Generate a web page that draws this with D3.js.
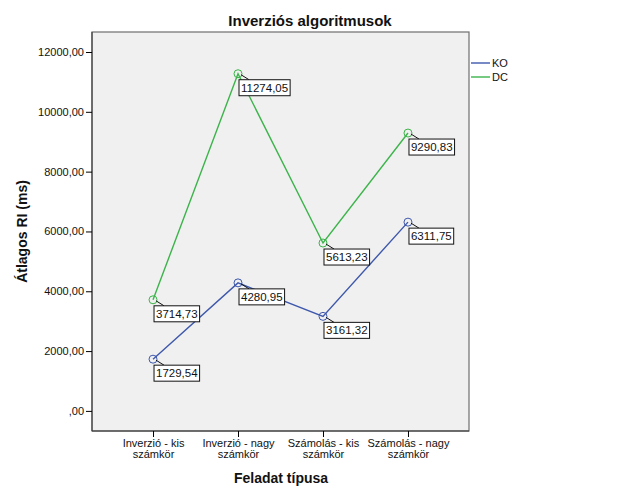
<!DOCTYPE html>
<html>
<head>
<meta charset="utf-8">
<script src="https://cdn.jsdelivr.net/npm/d3@7"></script>
<style>
body { margin: 0; background: #fff; }
text { font-family: Arial, "Liberation Sans", sans-serif; }
</style>
</head>
<body>
<div id="chart"></div>
<script>
var svgWidth = 626;
var svgHeight = 501;

// plot frame
var plot = { left: 92, top: 32, right: 469, bottom: 431 };

// data
var categories = ["Inverzió - kis számkör", "Inverzió - nagy számkör", "Számolás - kis számkör", "Számolás - nagy számkör"];
var catLines = [["Inverzió - kis", "számkör"], ["Inverzió - nagy", "számkör"], ["Számolás - kis", "számkör"], ["Számolás - nagy", "számkör"]];
var seriesNames = ["KO", "DC"];
var koValues = [1729.54, 4280.95, 3161.32, 6311.75];
var dcValues = [3714.73, 11274.05, 5613.23, 9290.83];
var yTicks = [0, 2000, 4000, 6000, 8000, 10000, 12000];
var colors = ["#3e58ac", "#3cb44b"];

var svg = d3.select("#chart")
	.append("svg")
	.attr("width", svgWidth)
	.attr("height", svgHeight);

var xScale = d3.scalePoint()
	.domain(categories)
	.range([plot.left, plot.right])
	.padding(0.718);

var yScale = d3.scaleLinear()
	.domain([-672, 12669])
	.range([plot.bottom, plot.top]);

function fmt(v) {
	var s = d3.format(".2f")(v).replace(".", ",");
	return s.replace(/^0,/, ",");
}

// background
svg.append("rect")
	.attr("x", plot.left)
	.attr("y", plot.top)
	.attr("width", plot.right - plot.left)
	.attr("height", plot.bottom - plot.top)
	.attr("fill", "#f0f0f0")
	.attr("stroke", "#6e6e6e")
	.attr("stroke-width", 1.2);

// title
svg.append("text")
	.attr("x", 310)
	.attr("y", 26)
	.attr("text-anchor", "middle")
	.attr("font-size", "15px")
	.attr("font-weight", "bold")
	.attr("fill", "#111")
	.text("Inverziós algoritmusok");

// y axis
var leftAxis = d3.axisLeft(yScale)
	.tickValues(yTicks)
	.tickSize(6)
	.tickPadding(2)
	.tickFormat(fmt);

var yAxis = svg.append("g")
	.attr("transform", `translate(${plot.left}, 0)`)
	.call(leftAxis);
yAxis.select(".domain")
	.attr("d", `M0,${plot.top}V${plot.bottom}`)
	.attr("stroke", "#333");
yAxis.selectAll("text")
	.attr("font-size", "11px")
	.attr("font-family", "Arial, 'Liberation Sans', sans-serif")
	.attr("fill", "#111");

// x axis
var bottomAxis = d3.axisBottom(xScale)
	.tickSize(6)
	.tickFormat("");

var xAxis = svg.append("g")
	.attr("transform", `translate(0, ${plot.bottom})`)
	.call(bottomAxis);
xAxis.select(".domain")
	.attr("d", `M${plot.left},0H${plot.right}`)
	.attr("stroke", "#333");

xAxis.selectAll(".tick")
	.each(function(d, i) {
		var t = d3.select(this).append("text")
			.attr("fill", "#111")
			.attr("font-size", "11px")
			.attr("text-anchor", "middle");
		catLines[i].forEach(function(line, j) {
			t.append("tspan")
				.attr("x", 0)
				.attr("y", 16 + j * 11)
				.text(line);
		});
	});

// axis titles
svg.append("text")
	.attr("x", 281)
	.attr("y", 483)
	.attr("text-anchor", "middle")
	.attr("font-size", "14px")
	.attr("font-weight", "bold")
	.attr("fill", "#111")
	.text("Feladat típusa");

svg.append("text")
	.attr("transform", `translate(27, ${(plot.top + plot.bottom) / 2}) rotate(-90)`)
	.attr("text-anchor", "middle")
	.attr("font-size", "14px")
	.attr("font-weight", "bold")
	.attr("fill", "#111")
	.text("Átlagos RI (ms)");

// series
var series = [koValues, dcValues];

var line = d3.line()
	.x((d, i) => xScale(categories[i]))
	.y(d => yScale(d));

series.forEach(function(values, s) {
	svg.append("path")
		.datum(values)
		.attr("d", line)
		.attr("fill", "none")
		.attr("stroke", colors[s])
		.attr("stroke-width", 1.4);

	svg.append("g").selectAll("circle")
		.data(values)
		.enter()
		.append("circle")
		.attr("cx", (d, i) => xScale(categories[i]))
		.attr("cy", d => yScale(d))
		.attr("r", 4)
		.attr("fill", "none")
		.attr("stroke", colors[s])
		.attr("stroke-width", 1);
});

// data labels
series.forEach(function(values, s) {
	values.forEach(function(v, i) {
		var cx = xScale(categories[i]);
		var cy = yScale(v);
		var g = svg.append("g");
		g.append("line")
			.attr("x1", cx + 3)
			.attr("y1", cy + 1)
			.attr("x2", cx + 11)
			.attr("y2", cy + 6)
			.attr("stroke", "#111")
			.attr("stroke-width", 1);
		var box = g.append("rect")
			.attr("fill", "#fff")
			.attr("stroke", "#111")
			.attr("stroke-width", 1);
		var t = g.append("text")
			.attr("x", cx + 3)
			.attr("y", cy + 18)
			.attr("font-size", "11.5px")
			.attr("fill", "#111")
			.text(fmt(v));
		var w = t.node().getComputedTextLength();
		box.attr("x", cx + 1)
			.attr("y", cy + 6)
			.attr("width", w + 4)
			.attr("height", 16);
	});
});

// legend
var legend = svg.append("g")
	.attr("transform", "translate(471, 63)");

seriesNames.forEach(function(name, s) {
	legend.append("line")
		.attr("x1", 0)
		.attr("x2", 19)
		.attr("y1", s * 14)
		.attr("y2", s * 14)
		.attr("stroke", colors[s])
		.attr("stroke-width", 1.4);
	legend.append("text")
		.attr("x", 21)
		.attr("y", s * 14 + 4)
		.attr("font-size", "11px")
		.attr("fill", "#111")
		.text(name);
});
</script>
</body>
</html>
